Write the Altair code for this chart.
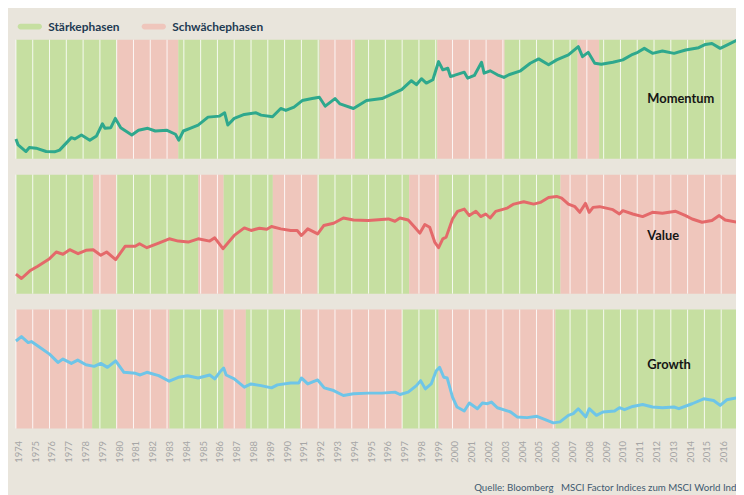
import altair as alt
import pandas as pd

# ---------------- data ----------------
years_ticks = list(range(1974, 2018))
phase_labels = ["Stärkephasen", "Schwächephasen"]
source_text = "Quelle: Bloomberg\u00a0\u00a0 MSCI Factor Indices zum MSCI World Index"

# phase boundaries (years) and phase per interval
mom_bounds = [1974.0, 1980.0, 1983.67, 1992.09, 1994.19, 1999.09, 2003.1, 2007.45, 2008.73, 2017.0]
mom_phases = ["Stärkephasen", "Schwächephasen", "Stärkephasen", "Schwächephasen", "Stärkephasen",
              "Schwächephasen", "Stärkephasen", "Schwächephasen", "Stärkephasen"]

val_bounds = [1974.0, 1978.6, 1979.96, 1984.87, 1986.37, 1989.3, 1991.97, 1997.42, 1999.19, 2006.43, 2017.0]
val_phases = ["Stärkephasen", "Schwächephasen", "Stärkephasen", "Schwächephasen", "Stärkephasen",
              "Schwächephasen", "Stärkephasen", "Schwächephasen", "Stärkephasen", "Schwächephasen"]

gro_bounds = [1974.0, 1978.54, 1979.96, 1983.14, 1986.37, 1987.69, 1990.93, 1996.99, 1999.17, 2006.13, 2017.0]
gro_phases = ["Schwächephasen", "Stärkephasen", "Schwächephasen", "Stärkephasen", "Schwächephasen",
              "Stärkephasen", "Schwächephasen", "Stärkephasen", "Schwächephasen", "Stärkephasen"]

# index series (relative units), (year, value)
momentum = [
    (1974.0, 20), (1974.13, 14), (1974.6, 7.3), (1974.8, 11.3), (1975.2, 10.7), (1975.8, 7.3),
    (1976.3, 7), (1976.6, 8.7), (1977.3, 21.3), (1977.5, 20), (1977.9, 24), (1978.4, 18.7),
    (1978.8, 23), (1979.15, 35.3), (1979.3, 30.7), (1979.65, 31.3), (1979.92, 40.7), (1980.24, 31.3),
    (1980.9, 24), (1981.3, 28.7), (1981.85, 30.7), (1982.3, 28), (1983.0, 28.7), (1983.5, 24.7),
    (1983.7, 18.7), (1983.97, 28), (1984.37, 30.7), (1984.85, 34), (1985.44, 42), (1986.13, 43),
    (1986.43, 46.3), (1986.62, 34), (1987.0, 40.7), (1987.6, 44.7), (1988.3, 46.3), (1988.6, 44),
    (1989.28, 42.3), (1989.77, 50.7), (1990.07, 48.7), (1990.56, 52), (1991.05, 58.7), (1991.64, 60.7),
    (1992.07, 62), (1992.42, 53), (1993.0, 60.7), (1993.3, 55.3), (1994.1, 50.7), (1994.88, 58.7),
    (1995.8, 60.7), (1996.97, 69.7), (1997.55, 78.7), (1997.85, 74.7), (1998.15, 80.7), (1998.44, 76.3),
    (1998.83, 79.7), (1999.17, 98), (1999.42, 89.7), (1999.72, 91.3), (1999.88, 83), (2000.1, 84),
    (2000.7, 87.3), (2000.9, 81.3), (2001.3, 84), (2001.73, 97.3), (2001.88, 86.3), (2002.24, 88.7),
    (2002.67, 84.7), (2003.06, 82), (2003.36, 84.7), (2004.05, 88.7), (2004.63, 96.3), (2005.13, 100.7),
    (2005.72, 94.7), (2006.2, 99.7), (2006.9, 104.7), (2007.49, 113), (2007.74, 103), (2008.08, 107.3),
    (2008.47, 96.3), (2008.86, 95.3), (2009.55, 97.3), (2010.14, 99.7), (2010.73, 105.3), (2011.03, 107.3),
    (2011.42, 111.3), (2011.91, 106.3), (2012.5, 108.7), (2013.19, 106.3), (2013.88, 109.7), (2014.66, 112),
    (2015.06, 115.3), (2015.45, 116.3), (2015.94, 111.3), (2016.43, 115.3), (2016.93, 119.5),
]

value = [
    (1974.0, 19.7), (1974.33, 15.3), (1974.83, 23), (1975.3, 27.7), (1976.0, 35.3), (1976.4, 42),
    (1976.8, 39.7), (1977.2, 44.3), (1977.7, 40.3), (1978.17, 43.7), (1978.6, 44.3), (1979.05, 38.7),
    (1979.4, 42), (1979.94, 34.3), (1980.5, 47.7), (1981.1, 47.7), (1981.36, 50.3), (1981.8, 46.3),
    (1982.5, 51), (1983.13, 55.3), (1983.67, 53), (1984.26, 52), (1984.85, 55.3), (1985.54, 53),
    (1985.84, 56.3), (1986.33, 45.3), (1986.62, 51), (1987.0, 58.7), (1987.6, 66.3), (1988.0, 63.7),
    (1988.5, 66), (1988.94, 65), (1989.22, 67.7), (1989.77, 65.3), (1990.36, 63.7), (1990.75, 63.7),
    (1991.0, 58.7), (1991.38, 65.3), (1991.97, 60.3), (1992.33, 68.7), (1992.92, 71), (1993.5, 76.3),
    (1994.1, 74.3), (1994.98, 73.7), (1996.18, 75.3), (1996.57, 73), (1996.87, 76.3), (1997.36, 74.3),
    (1997.75, 67), (1998.05, 61), (1998.35, 69.7), (1998.64, 67), (1998.94, 52), (1999.17, 46.3),
    (1999.42, 55.3), (1999.62, 57), (2000.0, 75.3), (2000.3, 83), (2000.7, 85.3), (2001.0, 78.7),
    (2001.39, 83), (2001.68, 77.7), (2001.98, 80.3), (2002.24, 76.3), (2002.57, 83), (2003.26, 86.3),
    (2003.65, 90.3), (2004.24, 92.7), (2004.83, 90.3), (2005.23, 92), (2005.72, 97), (2006.2, 98),
    (2006.5, 96.3), (2006.9, 90.3), (2007.29, 87.7), (2007.58, 82), (2007.92, 91), (2008.14, 82),
    (2008.37, 87), (2008.76, 87.7), (2009.55, 84.7), (2009.94, 80.3), (2010.14, 83.7), (2010.73, 80.3),
    (2011.32, 77.7), (2011.91, 82), (2012.5, 81), (2013.29, 83), (2013.88, 78.7), (2014.27, 75.3),
    (2014.86, 72), (2015.45, 73.7), (2015.88, 78.7), (2016.24, 74.3), (2016.93, 72),
]

growth = [
    (1974.0, 88.3), (1974.33, 92.7), (1974.73, 86.7), (1974.92, 87.7), (1975.5, 81), (1976.0, 75),
    (1976.5, 66.7), (1976.8, 70), (1977.3, 65.7), (1977.68, 69), (1978.17, 64.3), (1978.66, 62.7),
    (1979.05, 65.7), (1979.45, 61.7), (1979.94, 68.3), (1980.43, 56.7), (1981.12, 55.7), (1981.4, 54),
    (1981.8, 56.7), (1982.5, 53.3), (1983.13, 47.7), (1983.67, 51.7), (1984.22, 53.3), (1984.85, 51),
    (1985.54, 54), (1985.84, 50), (1986.13, 56.7), (1986.37, 61), (1986.52, 54), (1987.0, 50),
    (1987.6, 41.7), (1988.0, 45), (1988.6, 43.3), (1989.22, 41), (1989.57, 44), (1990.36, 46),
    (1990.85, 46), (1991.0, 51), (1991.38, 45), (1991.97, 49), (1992.36, 41), (1992.92, 38.3),
    (1993.5, 33.3), (1994.1, 35), (1994.98, 35.7), (1995.8, 35.7), (1996.57, 36.7), (1996.87, 34.3),
    (1997.36, 36.7), (1997.85, 43.3), (1998.1, 48.3), (1998.38, 40), (1998.73, 45), (1999.03, 58.3),
    (1999.23, 61.7), (1999.48, 51.7), (1999.68, 51), (2000.0, 31.7), (2000.27, 21.7), (2000.7, 17.7),
    (2001.0, 25.7), (2001.48, 20), (2001.78, 25.7), (2002.08, 25), (2002.32, 26.7), (2002.67, 21),
    (2003.46, 16.7), (2003.85, 11.7), (2004.44, 11), (2005.03, 12.3), (2005.52, 9), (2006.0, 5.7),
    (2006.4, 6.7), (2006.9, 13.3), (2007.19, 15), (2007.49, 20), (2007.94, 11.7), (2008.14, 20),
    (2008.57, 13.3), (2008.96, 16.7), (2009.65, 17.7), (2009.94, 21), (2010.24, 19), (2010.73, 22.3),
    (2011.32, 24.3), (2011.91, 21.7), (2012.5, 21), (2013.19, 21.7), (2013.48, 20), (2014.27, 25),
    (2014.96, 30), (2015.55, 28.3), (2015.94, 23.3), (2016.33, 29), (2016.93, 31),
]

# panel name -> label anchor (year, value)
panel_labels = {"Momentum": (2011.6, 60), "Value": (2011.6, 58), "Growth": (2011.6, 64)}

# ---------------- style ----------------
BG = "#e9e5dc"
GREEN = "#c6dfa1"
RED = "#efc6bc"
FONT = "Lato"
PANEL_W, PANEL_H = 728, 120

pill = ("M-0.755,-0.245 L0.755,-0.245 A0.245,0.245 0 0 1 0.755,0.245 "
        "L-0.755,0.245 A0.245,0.245 0 0 1 -0.755,-0.245 Z")

legend = alt.Legend(
    orient="none", legendX=1.5, legendY=-26, direction="horizontal", title=None,
    symbolType=pill, symbolSize=600, symbolStrokeWidth=0, symbolOpacity=1,
    labelFont=FONT, labelFontSize=12, labelFontWeight="bold", labelColor="#1e3a52",
    labelOffset=6, columnPadding=22, padding=0,
)

xscale = alt.Scale(domain=[1974, 2017], nice=False, zero=False)
yscale = alt.Scale(domain=[0, 120], nice=False, zero=False)
fill_scale = alt.Scale(domain=phase_labels, range=[GREEN, RED])

bottom_axis = alt.Axis(
    values=years_ticks, format="d", labelAngle=270, labelAlign="right", labelBaseline="middle",
    labelOffset=2.5, labelPadding=12, ticks=False, domain=False, grid=False,
    labelFont=FONT, labelFontSize=9.5, labelColor="#a6a6a6", labelOverlap=False,
    labelFlush=False, labelBound=False, title=None,
)


def panel(name, bounds, phases, series, color, show_axis):
    xaxis = bottom_axis if show_axis else None
    bands_df = pd.DataFrame({"start": bounds[:-1], "end": bounds[1:], "phase": phases})
    line_df = pd.DataFrame(series, columns=["year", "value"])
    grid_df = pd.DataFrame({"year": years_ticks})
    lx, lv = panel_labels[name]
    label_df = pd.DataFrame({"year": [lx], "value": [lv], "name": [name]})

    bands = alt.Chart(bands_df).mark_rect().encode(
        x=alt.X("start:Q", scale=xscale, axis=xaxis),
        x2="end:Q",
        fill=alt.Fill("phase:N", scale=fill_scale, legend=legend),
    )
    grid = alt.Chart(grid_df).mark_rule(color="white", strokeWidth=1, opacity=0.85).encode(
        x=alt.X("year:Q", scale=xscale, axis=xaxis),
    )
    line = alt.Chart(line_df).mark_line(color=color, strokeWidth=3, strokeJoin="round").encode(
        x=alt.X("year:Q", scale=xscale, axis=xaxis),
        y=alt.Y("value:Q", scale=yscale, axis=None),
    )
    label = alt.Chart(label_df).mark_text(
        align="left", baseline="middle", font=FONT, fontSize=13, fontWeight="bold", color="#151515"
    ).encode(
        x=alt.X("year:Q", scale=xscale, axis=xaxis),
        y=alt.Y("value:Q", scale=yscale, axis=None),
        text="name:N",
    )
    layers = [bands, grid, line, label]
    if show_axis:
        src = alt.Chart(pd.DataFrame({"t": [source_text]})).mark_text(
            align="left", baseline="middle", font=FONT, fontSize=9.8, color="#3e5a70",
            limit=272, ellipsis=" ",
        ).encode(x=alt.value(462), y=alt.value(180), text="t:N")
        layers.append(src)
    return alt.layer(*layers).properties(width=PANEL_W, height=PANEL_H)


p1 = panel("Momentum", mom_bounds, mom_phases, momentum, "#2ea88d", False)
p2 = panel("Value", val_bounds, val_phases, value, "#e4696a", False)
p3 = panel("Growth", gro_bounds, gro_phases, growth, "#6ec5e8", True)

chart = alt.vconcat(p1, p2, p3, spacing=14).properties(
    background=BG,
    padding={"left": 5, "top": 4, "right": -9, "bottom": 0},
).configure_view(stroke=None, strokeWidth=0)

chart.save("out.html", embed_options={"renderer": "svg", "actions": False})
